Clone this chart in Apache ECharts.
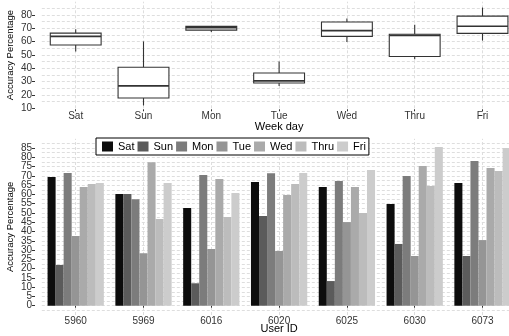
<!DOCTYPE html>
<html>
<head>
<meta charset="utf-8">
<script src="https://cdn.jsdelivr.net/npm/echarts@6/dist/echarts.min.js"></script>
<style>
  html, body { margin: 0; padding: 0; background: #fff; }
  #chart { width: 509px; height: 336px; }
</style>
</head>
<body>
<div id="chart"></div>
<script>
const weekdays = ['Sat', 'Sun', 'Mon', 'Tue', 'Wed', 'Thru', 'Fri'];
const userIds = ['5960', '5969', '6016', '6020', '6025', '6030', '6073'];

// accuracy per user, one array per week day (bottom chart)
const satValues = [69.4, 60.2, 52.7, 66.7, 64.0, 54.9, 66.2];
const sunValues = [22.0, 60.2, 12.1, 48.4, 13.3, 33.3, 26.8];
const monValues = [71.6, 57.4, 70.5, 71.4, 67.3, 70.0, 78.0];
const tueValues = [37.6, 28.3, 30.6, 29.5, 45.1, 26.8, 35.4];
const wedValues = [64.0, 77.3, 68.3, 59.7, 64.0, 75.4, 74.3];
const thruValues = [65.6, 46.8, 47.8, 65.6, 50.0, 64.6, 72.7];
const friValues = [66.2, 66.2, 60.8, 71.6, 73.2, 85.6, 85.1];

// box plot per week day (top chart)
const boxLow = [52.7, 12.1, 67.3, 26.8, 59.7, 46.8, 60.8];
const boxQ1 = [57.5, 17.7, 68.7, 29.0, 64.0, 48.9, 66.2];
const boxMedian = [64.0, 26.8, 70.5, 30.6, 68.3, 64.6, 71.6];
const boxQ3 = [66.4, 40.8, 71.5, 36.5, 74.8, 65.6, 79.2];
const boxHigh = [69.4, 60.2, 71.6, 45.1, 77.3, 72.7, 85.6];

const topTicks = [10, 20, 30, 40, 50, 60, 70, 80];
const bottomTicks = [0, 5, 10, 15, 20, 25, 30, 35, 40, 45, 50, 55, 60, 65, 70, 75, 80, 85];

const dayValues = [satValues, sunValues, monValues, tueValues, wedValues, thruValues, friValues];
const greys = ['#0d0d0d', '#5b5b5b', '#7c7c7c', '#959595', '#aaaaaa', '#bcbcbc', '#cccccc'];

const font = "'Liberation Sans', Arial, sans-serif";
const gridLine = { color: '#dedede', type: [3, 2], width: 1 };

const chart = echarts.init(document.getElementById('chart'), null, { renderer: 'canvas' });

const boxData = weekdays.map((d, i) => [i, boxLow[i], boxQ1[i], boxMedian[i], boxQ3[i], boxHigh[i]]);

function renderBox(params, api) {
  const x = api.value(0);
  const half = api.size([1, 0])[0] * 0.375;
  const low = api.coord([x, api.value(1)]);
  const q1 = api.coord([x, api.value(2)]);
  const med = api.coord([x, api.value(3)]);
  const q3 = api.coord([x, api.value(4)]);
  const high = api.coord([x, api.value(5)]);
  const stroke = { stroke: '#333', lineWidth: 1.1, fill: null };
  return {
    type: 'group',
    children: [
      { type: 'line', shape: { x1: low[0], y1: low[1], x2: q1[0], y2: q1[1] }, style: stroke },
      { type: 'line', shape: { x1: q3[0], y1: q3[1], x2: high[0], y2: high[1] }, style: stroke },
      { type: 'rect', shape: { x: q3[0] - half, y: q3[1], width: half * 2, height: q1[1] - q3[1] },
        style: { fill: '#fff', stroke: '#333', lineWidth: 1.1 } },
      { type: 'line', shape: { x1: med[0] - half, y1: med[1], x2: med[0] + half, y2: med[1] },
        style: { stroke: '#333', lineWidth: 1.6 } }
    ]
  };
}

function valueAxis(gridIndex, min, max, interval, ticks, showMin) {
  return {
    type: 'value',
    gridIndex: gridIndex,
    min: min,
    max: max,
    interval: interval,
    offset: 6.8,
    name: 'Accuracy Percentage',
    nameLocation: 'middle',
    nameGap: 20,
    nameMoveOverlap: false,
    nameTextStyle: { fontFamily: font, fontSize: 9.5, color: '#000' },
    axisLine: { show: false },
    axisTick: { show: true, length: 3, lineStyle: { color: '#333' } },
    axisLabel: {
      fontFamily: font, fontSize: 10, color: '#333', margin: 3,
      showMinLabel: showMin, showMaxLabel: false,
      formatter: v => (ticks.indexOf(v) >= 0 ? String(v) : '')
    },
    splitLine: { show: true, showMinLine: false, showMaxLine: false, lineStyle: gridLine },
    minorTick: { show: false, splitNumber: 2 },
    minorSplitLine: { show: true, lineStyle: gridLine }
  };
}

function categoryAxis(gridIndex, data, name, offset, nameGap) {
  return {
    type: 'category',
    gridIndex: gridIndex,
    data: data,
    offset: offset,
    name: name,
    nameLocation: 'middle',
    nameGap: nameGap,
    nameMoveOverlap: false,
    nameTextStyle: { fontFamily: font, fontSize: 11, color: '#000' },
    axisLine: { show: false },
    axisTick: { show: true, alignWithLabel: true, length: 2, lineStyle: { color: '#333' } },
    axisLabel: { fontFamily: font, fontSize: 10, color: '#333', margin: 2 },
    splitLine: { show: false }
  };
}

// vertical grid lines through the category centres, drawn under the marks
function centreLines(xAxisIndex, yAxisIndex, cats) {
  return {
    type: 'line',
    xAxisIndex: xAxisIndex,
    yAxisIndex: yAxisIndex,
    data: [],
    silent: true,
    markLine: {
      z: 0,
      silent: true,
      symbol: 'none',
      label: { show: false },
      lineStyle: { color: '#dedede', type: [3, 2], width: 1 },
      data: cats.map(c => ({ xAxis: c }))
    }
  };
}

const barSeries = weekdays.map((d, i) => ({
  name: d,
  type: 'bar',
  xAxisIndex: 1,
  yAxisIndex: 1,
  barGap: '0%',
  barCategoryGap: '17%',
  itemStyle: { color: greys[i] },
  data: dayValues[i]
}));

const option = {
  animation: false,
  backgroundColor: '#fff',
  grid: [
    { left: 41.8, right: -7.4, top: 1.7, bottom: 227.7, containLabel: false, outerBoundsMode: 'none' },
    { left: 41.8, right: -7.4, top: 138.8, bottom: 21, containLabel: false, outerBoundsMode: 'none' }
  ],
  legend: {
    data: weekdays,
    left: 96,
    top: 138,
    orient: 'horizontal',
    icon: 'rect',
    itemWidth: 11,
    itemHeight: 10,
    itemGap: 3,
    padding: [3, 3, 3, 6],
    borderColor: '#000',
    borderWidth: 1,
    backgroundColor: '#fff',
    textStyle: { fontFamily: font, fontSize: 11, color: '#000' },
    selectedMode: false
  },
  xAxis: [
    categoryAxis(0, weekdays, 'Week day', 1, 12),
    categoryAxis(1, userIds, 'User ID', -1, 9)
  ],
  yAxis: [
    valueAxis(0, 10, 90, 10, topTicks, true),
    valueAxis(1, -5, 90, 5, bottomTicks, false)
  ],
  series: [
    centreLines(0, 0, weekdays),
    centreLines(1, 1, userIds),
    {
      name: 'box',
      type: 'custom',
      xAxisIndex: 0,
      yAxisIndex: 0,
      z: 3,
      renderItem: renderBox,
      encode: { x: 0, y: [1, 2, 3, 4, 5] },
      data: boxData
    }
  ].concat(barSeries)
};

chart.setOption(option);
</script>
</body>
</html>
